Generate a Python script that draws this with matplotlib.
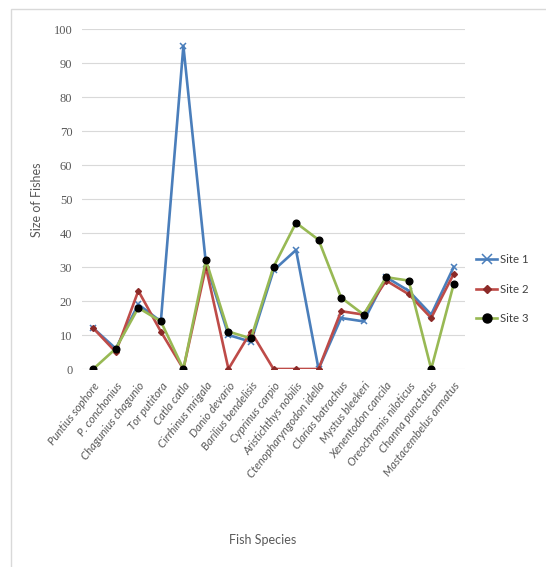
import numpy as np
import matplotlib.pyplot as plt
from matplotlib.patches import Rectangle

# fish species on x axis
species = ['Puntius sophore', 'P. conchonius', 'Chagunius chagunio', 'Tor putitora',
           'Catla catla', 'Cirrhinus mrigala', 'Danio devario', 'Barilius bendelisis',
           'Cyprinus carpio', 'Aristichthys nobilis', 'Ctenopharyngodon idella',
           'Clarias batrachus', 'Mystus bleekeri', 'Xenentodon cancila',
           'Oreochromis niloticus', 'Channa punctatus', 'Mastacembelus armatus']

site1 = [12, 6, 19, 14, 95, 31, 10, 8, 29, 35, 0, 15, 14, 27, 23, 16, 30]
site2 = [12, 5, 23, 11, 0, 30, 0, 11, 0, 0, 0, 17, 16, 26, 22, 15, 28]
site3 = [0, 6, 18, 14, 0, 32, 11, 9, 30, 43, 38, 21, 16, 27, 26, 0, 25]

yticks = list(range(0, 101, 10))

grey = '#595959'

fig = plt.figure(figsize=(5.46, 5.67), dpi=100)
ax = fig.add_axes([82/546, 1 - 369/567, (465 - 82)/546, (369 - 29)/567])

# outer chart frame (only top and left edges visible)
fig.patches.append(Rectangle((11/546, -0.1), 1.2, 1 - 9/567 + 0.1,
                             transform=fig.transFigure, fill=False,
                             edgecolor='#d9d9d9', lw=1))

x = np.arange(len(species))
ax.plot(x, site1, color='#4a7ebb', lw=1.9, marker='x', ms=5, mew=1.1,
        label='Site 1', zorder=3)
ax.plot(x, site2, color='#be4b48', lw=1.9, marker='D', ms=3,
        mfc='#8b2a28', mec='#8b2a28', label='Site 2', zorder=4)
ax.plot(x, site3, color='#98b954', lw=1.9, marker='o', ms=4.8,
        mfc='black', mec='black', label='Site 3', zorder=5)

ax.set_xlim(-0.5, len(species) - 0.5)
ax.set_ylim(0, 100)
ax.set_yticks(yticks)
ax.set_yticklabels([str(v) for v in yticks], family='Liberation Serif',
                   fontsize=9, color=grey)
ax.set_xticks(x)
ax.set_xticklabels(species, rotation=52, ha='right', rotation_mode='anchor',
                   family='Lato', style='italic', fontsize=8.2, color=grey)
ax.tick_params(length=0, pad=8)
ax.tick_params(axis='y', pad=7)
ax.grid(axis='y', color='#d9d9d9', lw=0.8)
ax.set_axisbelow(True)
for s in ax.spines.values():
    s.set_visible(False)

fig.text(37/546, 1 - 200/567, 'Size of Fishes', rotation=90, ha='center',
         va='center', family='Lato', fontsize=9, color=grey)
fig.text(263/546, 1 - 540/567, 'Fish Species', ha='center', va='center',
         family='Lato', fontsize=9, color=grey)

leg = ax.legend(loc='center left', bbox_to_anchor=(1.0, 0.235), frameon=False,
                borderaxespad=0.6, labelspacing=1.6, handlelength=1.8,
                handletextpad=0.3, markerscale=1.35,
                prop={'family': 'Lato', 'size': 8.2})
for t in leg.get_texts():
    t.set_color('#404040')

fig.savefig('out.png', dpi=100)
